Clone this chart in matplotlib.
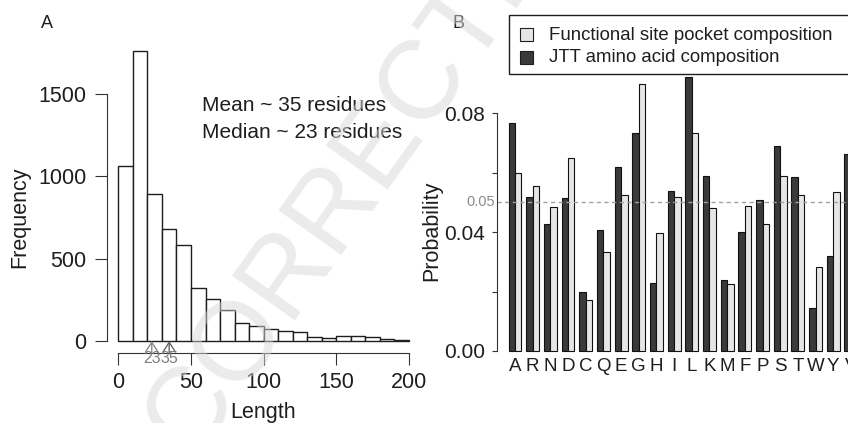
import numpy as np
import matplotlib
matplotlib.use('Agg')
import matplotlib.pyplot as plt
from matplotlib.patches import Rectangle

plt.rcParams['font.family'] = ['Liberation Sans', 'DejaVu Sans']

W, H = 848, 423

# panel A - pocket length histogram
bin_edges = list(range(0, 210, 10))
length_counts = [1063, 1763, 895, 682, 581, 320, 257, 186, 111, 91,
                 71, 63, 55, 26, 18, 28, 28, 26, 12, 6]
median_len = 23
mean_len = 35

# panel B - amino acid composition
amino_acids = ['A', 'R', 'N', 'D', 'C', 'Q', 'E', 'G', 'H', 'I',
               'L', 'K', 'M', 'F', 'P', 'S', 'T', 'W', 'Y', 'V']
jtt_comp = [0.0769, 0.0518, 0.0428, 0.0516, 0.0198, 0.0408, 0.0619, 0.0733, 0.0229, 0.0538,
            0.0921, 0.0588, 0.0238, 0.0402, 0.0509, 0.0689, 0.0586, 0.0143, 0.0321, 0.0662]
pocket_comp = [0.0599, 0.0557, 0.0485, 0.0650, 0.0172, 0.0332, 0.0525, 0.0898, 0.0398, 0.0518,
               0.0734, 0.0481, 0.0224, 0.0488, 0.0426, 0.0590, 0.0525, 0.0281, 0.0536, 0.0600]

ink = '#1e1e1e'


def px_axes(l, t, r, b):
    # axes placed by pixel box (top-left origin)
    return fig.add_axes([l / W, 1 - b / H, (r - l) / W, (b - t) / H])


fig = plt.figure(figsize=(8.48, 4.23), dpi=100)

# ---- A ----
axA = px_axes(106.7, 39.1, 420.6, 352.6)
axA.bar(bin_edges[:-1], length_counts, width=10, align='edge',
        facecolor='white', edgecolor=ink, linewidth=1.0)
axA.set_xlim(-8, 208)
axA.set_ylim(-70.5, 1833.5)
for s in ['top', 'right']:
    axA.spines[s].set_visible(False)
axA.spines['left'].set_bounds(0, 1500)
axA.spines['bottom'].set_bounds(0, 200)
for s in ['left', 'bottom']:
    axA.spines[s].set_color('#333333')
    axA.spines[s].set_linewidth(0.8)
axA.set_xticks([0, 50, 100, 150, 200])
axA.set_yticks([0, 500, 1000, 1500])
axA.tick_params(direction='out', length=8.6, width=0.8, color='#333333',
                labelsize=15.5, labelcolor=ink)
axA.tick_params(axis='y', pad=5.8)
axA.tick_params(axis='x', pad=5.5)

for v, c in [(median_len, '#8a8a8a'), (mean_len, '#666666')]:
    axA.annotate('', xy=(v, 0), xytext=(v, -70.5),
                 arrowprops=dict(arrowstyle='->,head_length=0.7,head_width=0.45',
                                 color=c, lw=1.0, shrinkA=0, shrinkB=0),
                 annotation_clip=False)
    axA.text(v, -106, str(v), ha='center', va='center', fontsize=11.5,
             color='#808080', clip_on=False)

axA.text(57.4, 1433, 'Mean ~ 35 residues', fontsize=15, va='center', color=ink)
axA.text(57.4, 1269, 'Median ~ 23 residues', fontsize=15, va='center', color=ink)

fig.text(19.5 / W, 1 - 217 / H, 'Frequency', rotation=90, ha='center', va='center',
         fontsize=15.5, color=ink)
fig.text(263 / W, 1 - 418 / H, 'Length', ha='center', va='baseline',
         fontsize=15.5, color=ink)

# ---- B ----
axB = px_axes(496.7, 66.4, 869.3, 361.9)
x = np.arange(len(amino_acids))
w = 0.365
axB.bar(x - w / 2, jtt_comp, w, color='#3a3a3a', edgecolor='#111111', linewidth=0.8)
axB.bar(x + w / 2, pocket_comp, w, color='#e6e6e6', edgecolor='#111111', linewidth=0.8)
axB.axhline(0.05, color='#a0a0a0', lw=1.0, ls=(0, (3, 2.5)))
axB.set_xlim(-1.035, 20.04)
axB.set_ylim(-0.00368, 0.0958)
for s in ['top', 'right', 'bottom']:
    axB.spines[s].set_visible(False)
axB.spines['left'].set_bounds(0, 0.08)
axB.spines['left'].set_color('#333333')
axB.spines['left'].set_linewidth(0.8)
axB.set_yticks([0, 0.02, 0.04, 0.06, 0.08])
axB.set_yticklabels(['0.00', '', '0.04', '', '0.08'])
axB.tick_params(axis='y', direction='out', length=3.6, width=0.8, color='#333333',
                pad=4.8, labelsize=15, labelcolor=ink)
axB.set_xticks(x)
axB.set_xticklabels(amino_acids)
axB.tick_params(axis='x', length=0, pad=-3, labelsize=13.5, labelcolor=ink)
axB.text(-1.13, 0.05, '0.05', ha='right', va='center', fontsize=10.5, color='#8c8c8c')

fig.text(431.5 / W, 1 - 231 / H, 'Probability', rotation=90, ha='center', va='center',
         fontsize=15.5, color=ink)

# overlay in pixel coords: legend, panel letters, watermark
ov = fig.add_axes([0, 0, 1, 1])
ov.set_xlim(0, W)
ov.set_ylim(H, 0)
ov.axis('off')
ov.add_patch(Rectangle((509, 15.3), 360, 59, fill=False, edgecolor=ink, lw=1.0))
ov.add_patch(Rectangle((520, 28.5), 13, 13, facecolor='#e6e6e6', edgecolor=ink, lw=0.8))
ov.add_patch(Rectangle((520, 51), 13, 13, facecolor='#3a3a3a', edgecolor=ink, lw=0.8))
ov.text(549, 35, 'Functional site pocket composition', fontsize=13.4, va='center', color=ink)
ov.text(549, 58, 'JTT amino acid composition', fontsize=13.4, va='center', color=ink)

ov.text(46.7, 23, 'A', fontsize=13, ha='center', va='center', color=ink)
ov.text(458.5, 24, 'B', fontsize=13, ha='center', va='center', color=ink)

ov.text(372, 155, 'CORRECTED', fontsize=80, rotation=54.6, rotation_mode='anchor',
        ha='center', va='center', color='#d8d8d8', alpha=0.5, zorder=10)

fig.savefig('out.png', dpi=100)
